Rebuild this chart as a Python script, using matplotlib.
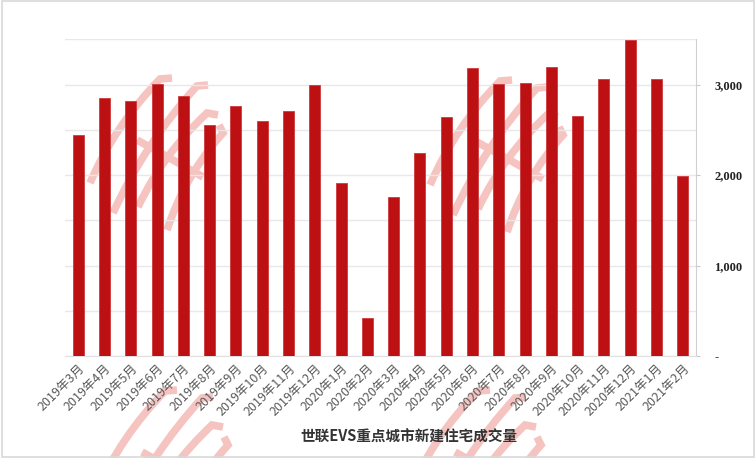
import matplotlib
matplotlib.use("Agg")
import matplotlib.pyplot as plt
from matplotlib.ticker import FuncFormatter, MultipleLocator
from matplotlib.patches import Rectangle, PathPatch
from matplotlib.path import Path
from matplotlib.transforms import Affine2D

plt.rcParams['font.family'] = ['Noto Sans CJK SC', 'DejaVu Sans']

months = ["2019年3月", "2019年4月", "2019年5月", "2019年6月", "2019年7月", "2019年8月",
          "2019年9月", "2019年10月", "2019年11月", "2019年12月", "2020年1月", "2020年2月",
          "2020年3月", "2020年4月", "2020年5月", "2020年6月", "2020年7月", "2020年8月",
          "2020年9月", "2020年10月", "2020年11月", "2020年12月", "2021年1月", "2021年2月"]
volume = [2447, 2848, 2815, 3002, 2870, 2553, 2759, 2594, 2712, 2995, 1913, 416,
          1755, 2248, 2646, 3179, 3002, 3017, 3197, 2649, 3061, 3497, 3065, 1994]
title = "世联EVS重点城市新建住宅成交量"

W, H = 756, 458
fig = plt.figure(figsize=(W / 100, H / 100), dpi=100)

# ---- faint watermark logo (decoration only) ----
px = Affine2D().scale(1 / W, -1 / H).translate(0, 1) + fig.transFigure
wm_color = "#f5c4c1"
strokes = [
    [(-65, 28), (-40, -30), (5, -76), (17, -77)],
    [(-42, 58), (-10, -12), (42, -69), (53, -70)],
    [(-17, 52), (8, -1), (52, -42), (63, -40)],
    [(12, 75), (30, 20), (68, -22), (64, -30)],
    [(-18, -15), (15, 3), (48, 22), (48, 22)],
]
codes = [Path.MOVETO, Path.CURVE3, Path.CURVE3, Path.LINETO]


def draw_logo(cx, cy, s=1.0):
    for st in strokes:
        verts = [(cx + s * dx, cy + s * dy) for dx, dy in st]
        fig.add_artist(PathPatch(Path(verts, codes), transform=px, fill=False,
                                 edgecolor=wm_color, lw=5.5, capstyle="butt",
                                 joinstyle="miter", zorder=0))


for c in [(155, 155), (495, 157), (160, 467), (473, 467)]:
    draw_logo(*c)

# ---- chart ----
ax = fig.add_axes([0.086, 0.2227, 0.8346, 0.6913])
ax.set_facecolor("none")
x = range(len(months))
ax.bar(x, volume, width=0.42, color="#bc1013", edgecolor="#d0393c", linewidth=0.6, zorder=3)

ax.set_xlim(-0.5, len(months) - 0.5)
ax.set_ylim(0, 3500)
ax.yaxis.set_major_locator(MultipleLocator(1000))
ax.yaxis.set_minor_locator(MultipleLocator(500))
ax.grid(axis="y", which="both", color="#e8e8e8", linewidth=1.0, zorder=0)
ax.yaxis.tick_right()
ax.yaxis.set_major_formatter(FuncFormatter(lambda v, p: "-" if v == 0 else f"{int(v):,}"))
ax.tick_params(axis="y", which="major", length=3, color="#c8c8c8", pad=10,
               labelsize=9, labelcolor="#222222")
ax.tick_params(axis="y", which="minor", length=0)
for lab in ax.get_yticklabels():
    lab.set_fontfamily("Liberation Serif")
    lab.set_fontweight("bold")

ax.set_xticks(list(x))
ax.set_xticklabels(months, rotation=45, ha="right", rotation_mode="anchor",
                   fontsize=9, color="#595959")
ax.tick_params(axis="x", length=0, pad=4)

for s in ["top", "left"]:
    ax.spines[s].set_visible(False)
ax.spines["right"].set_color("#d0d0d0")
ax.spines["bottom"].set_color("#e0e0e0")

fig.text(0.541, 0.046, title, ha="center", va="center", fontsize=10.5,
         fontweight="bold", color="#333333")

fig.add_artist(Rectangle((0.002, 0.003), 0.996, 0.994, transform=fig.transFigure,
                         fill=False, edgecolor="#d9d9d9", linewidth=1.2))

fig.savefig("out.png", dpi=100)
